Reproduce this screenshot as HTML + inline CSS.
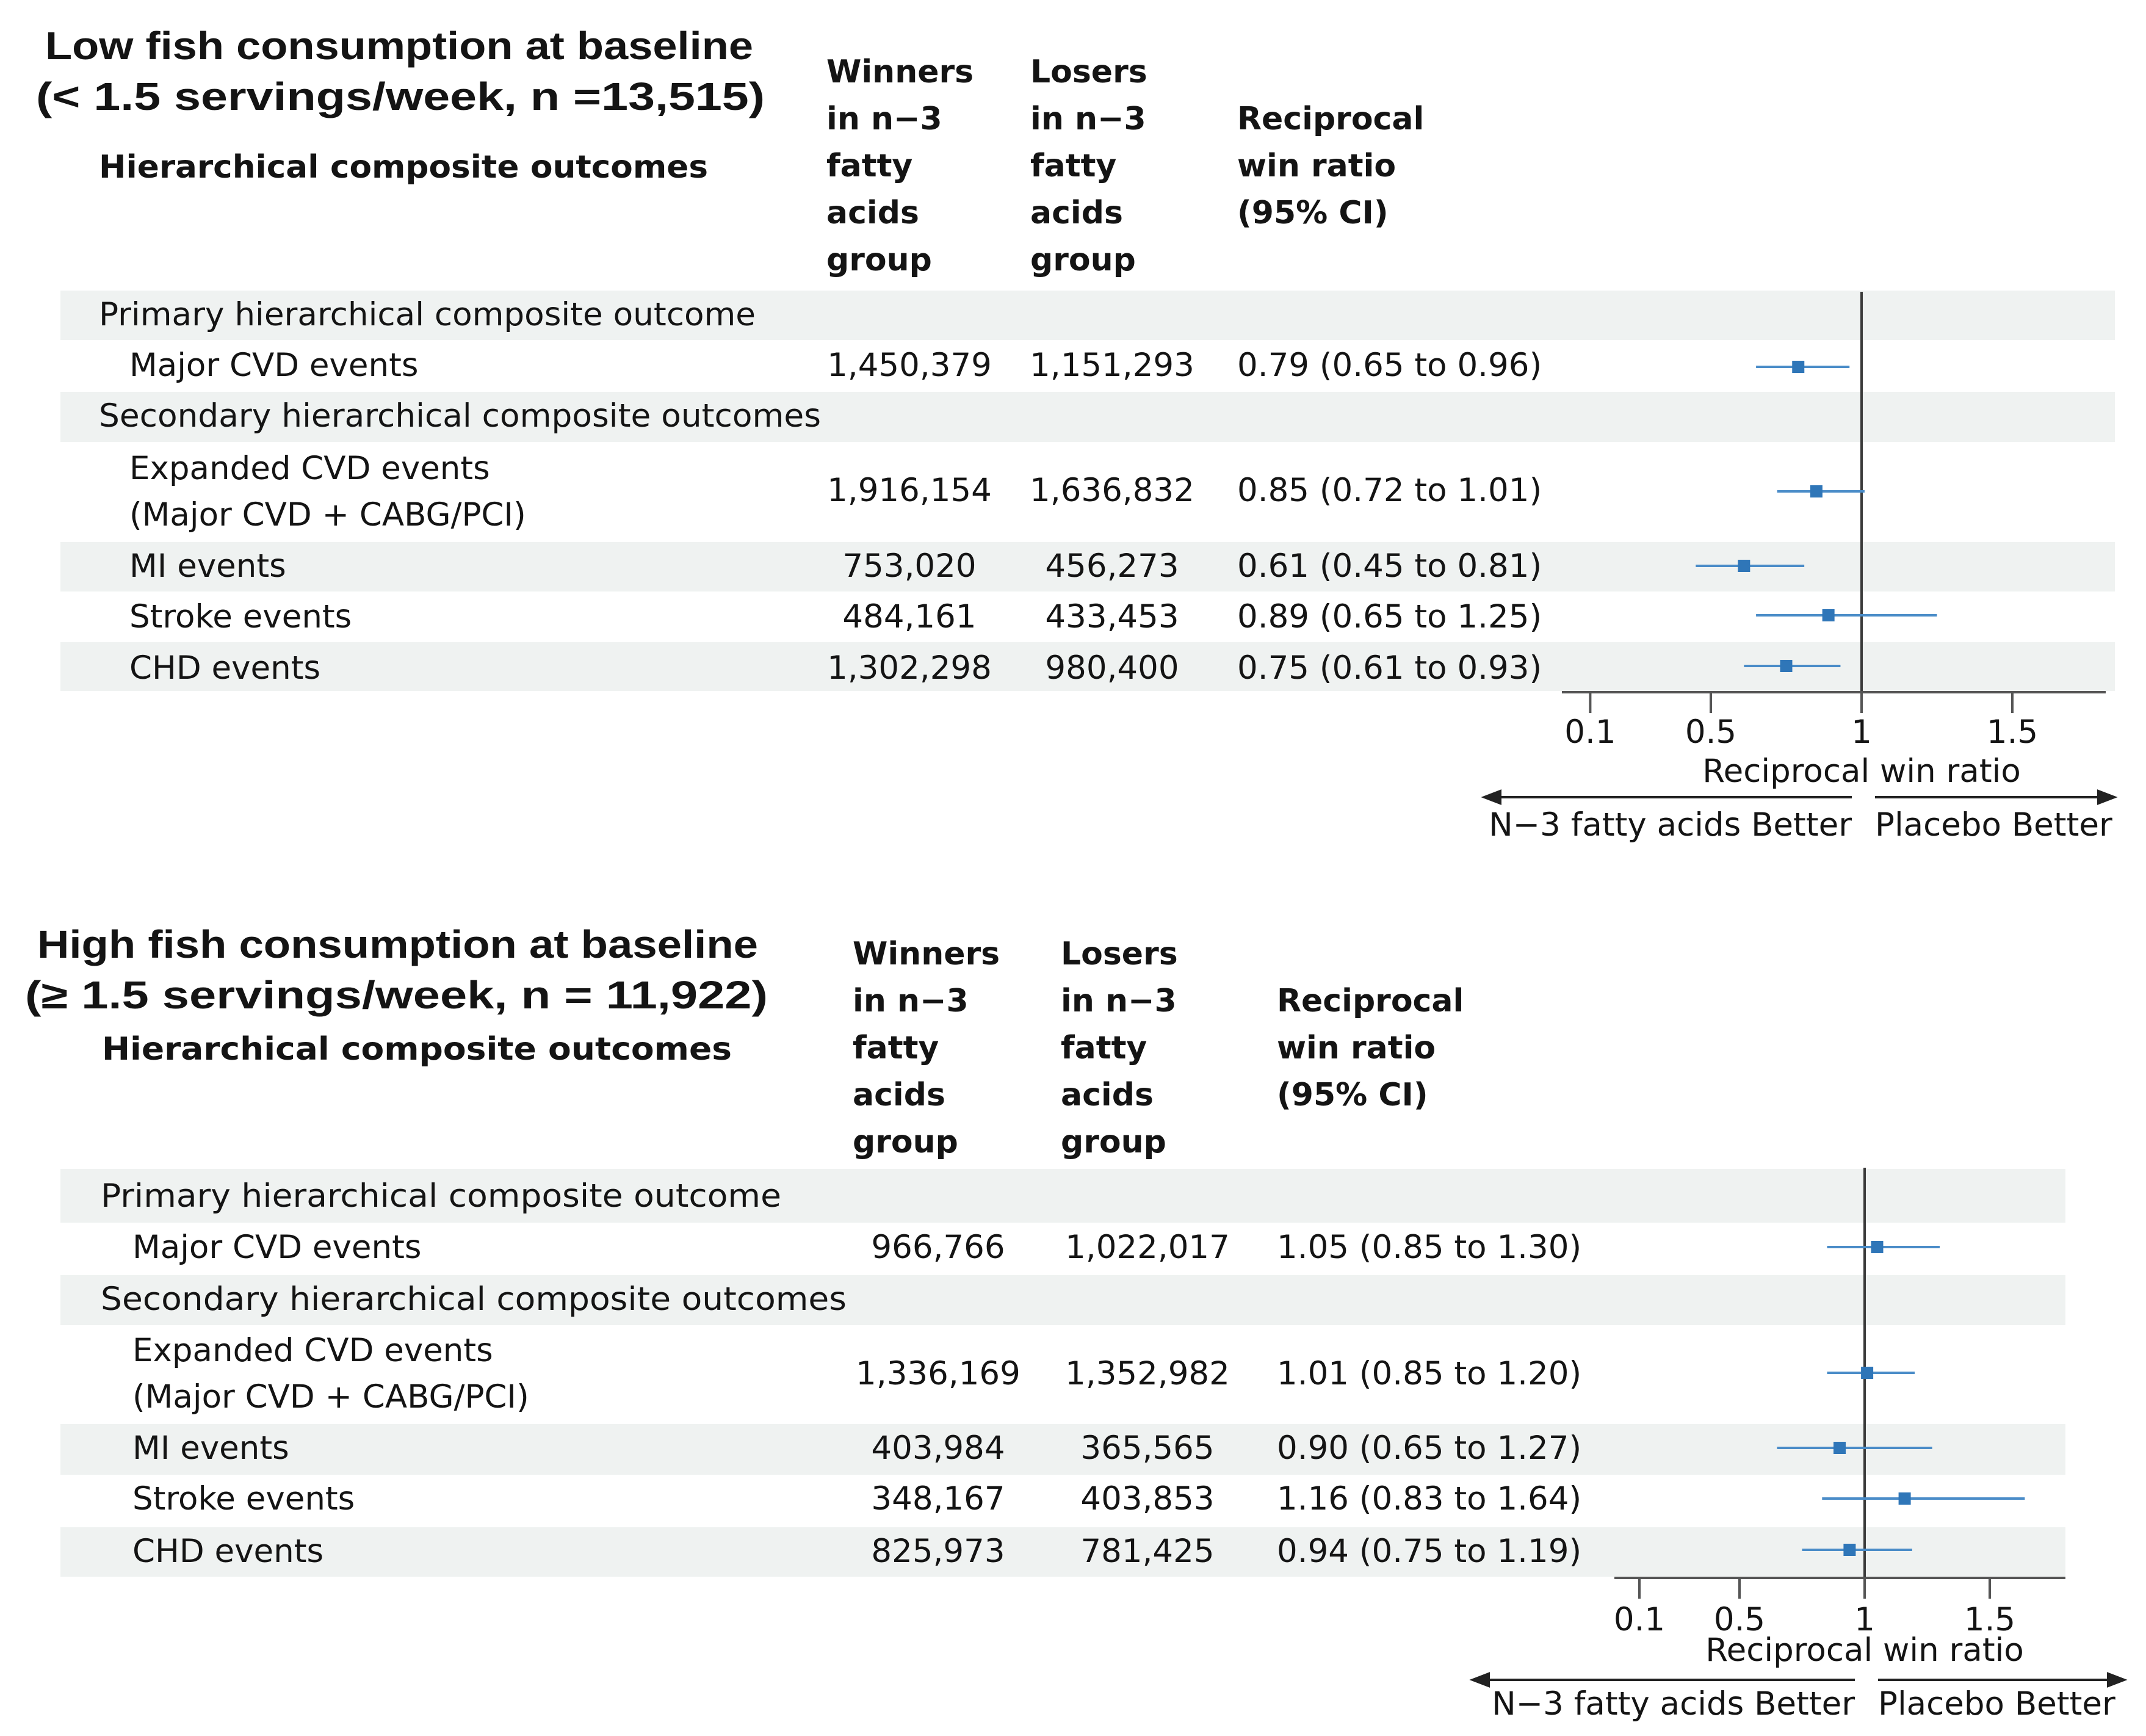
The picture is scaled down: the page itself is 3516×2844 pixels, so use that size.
<!DOCTYPE html>
<html><head><meta charset="utf-8"><style>
html,body{margin:0;padding:0;background:#fff}
svg{display:block}
text{font-family:"DejaVu Sans","Liberation Sans",sans-serif;fill:#141414}
.t{font-family:"Liberation Sans",sans-serif;font-weight:bold;font-size:64px}
.h{font-weight:bold;font-size:52px}
.b{font-size:53px}
.tk{font-size:53px}
</style></head><body>
<svg id="fig" width="3516" height="2844" viewBox="0 0 3516 2844" xmlns="http://www.w3.org/2000/svg">
<g id="bands">
<rect x="99" y="476" width="3366" height="81" fill="#eff2f1"/>
<rect x="99" y="642" width="3366" height="82" fill="#eff2f1"/>
<rect x="99" y="888" width="3366" height="81" fill="#eff2f1"/>
<rect x="99" y="1052" width="3366" height="80" fill="#eff2f1"/>
<rect x="99" y="1915" width="3285" height="88" fill="#eff2f1"/>
<rect x="99" y="2089" width="3285" height="82" fill="#eff2f1"/>
<rect x="99" y="2333" width="3285" height="83" fill="#eff2f1"/>
<rect x="99" y="2502" width="3285" height="81" fill="#eff2f1"/>
</g>
<g>
<text class="t" x="74" y="97" textLength="1160" lengthAdjust="spacingAndGlyphs">Low fish consumption at baseline</text>
<text class="t" x="59" y="180" textLength="1194" lengthAdjust="spacingAndGlyphs">(&lt; 1.5 servings/week, n =13,515)</text>
<text class="h" x="162" y="291" textLength="998" lengthAdjust="spacingAndGlyphs">Hierarchical composite outcomes</text>
<text class="h" x="1354" y="135">Winners<tspan x="1354" dy="77">in n−3</tspan><tspan x="1354" dy="77">fatty</tspan><tspan x="1354" dy="77">acids</tspan><tspan x="1354" dy="77">group</tspan></text>
<text class="h" x="1688" y="135">Losers<tspan x="1688" dy="77">in n−3</tspan><tspan x="1688" dy="77">fatty</tspan><tspan x="1688" dy="77">acids</tspan><tspan x="1688" dy="77">group</tspan></text>
<text class="h" x="2027" y="212">Reciprocal<tspan x="2027" dy="77">win ratio</tspan><tspan x="2027" dy="77">(95% CI)</tspan></text>
<text class="b" x="162" y="533" textLength="1076" lengthAdjust="spacingAndGlyphs">Primary hierarchical composite outcome</text>
<text class="b" x="212" y="616">Major CVD events</text>
<text class="b" x="162" y="699" textLength="1183" lengthAdjust="spacingAndGlyphs">Secondary hierarchical composite outcomes</text>
<text class="b" x="212" y="785">Expanded CVD events<tspan x="212" dy="76">(Major CVD + CABG/PCI)</tspan></text>
<text class="b" x="212" y="945">MI events</text>
<text class="b" x="212" y="1028">Stroke events</text>
<text class="b" x="212" y="1112">CHD events</text>
<g text-anchor="middle">
<text class="b" x="1490" y="616">1,450,379</text>
<text class="b" x="1822" y="616">1,151,293</text>
<text class="b" x="1490" y="821">1,916,154</text>
<text class="b" x="1822" y="821">1,636,832</text>
<text class="b" x="1490" y="945">753,020</text>
<text class="b" x="1822" y="945">456,273</text>
<text class="b" x="1490" y="1028">484,161</text>
<text class="b" x="1822" y="1028">433,453</text>
<text class="b" x="1490" y="1112">1,302,298</text>
<text class="b" x="1822" y="1112">980,400</text>
</g>
<text class="b" x="2027" y="616">0.79 (0.65 to 0.96)</text>
<text class="b" x="2027" y="821">0.85 (0.72 to 1.01)</text>
<text class="b" x="2027" y="945">0.61 (0.45 to 0.81)</text>
<text class="b" x="2027" y="1028">0.89 (0.65 to 1.25)</text>
<text class="b" x="2027" y="1112">0.75 (0.61 to 0.93)</text>
</g>
<g>
<text class="t" x="61" y="1569" textLength="1181" lengthAdjust="spacingAndGlyphs">High fish consumption at baseline</text>
<text class="t" x="41" y="1652" textLength="1217" lengthAdjust="spacingAndGlyphs">(≥ 1.5 servings/week, n = 11,922)</text>
<text class="h" x="167" y="1736" textLength="1032" lengthAdjust="spacingAndGlyphs">Hierarchical composite outcomes</text>
<text class="h" x="1397" y="1580">Winners<tspan x="1397" dy="77">in n−3</tspan><tspan x="1397" dy="77">fatty</tspan><tspan x="1397" dy="77">acids</tspan><tspan x="1397" dy="77">group</tspan></text>
<text class="h" x="1738" y="1580">Losers<tspan x="1738" dy="77">in n−3</tspan><tspan x="1738" dy="77">fatty</tspan><tspan x="1738" dy="77">acids</tspan><tspan x="1738" dy="77">group</tspan></text>
<text class="h" x="2092" y="1657">Reciprocal<tspan x="2092" dy="77">win ratio</tspan><tspan x="2092" dy="77">(95% CI)</tspan></text>
<text class="b" x="165" y="1977" textLength="1115" lengthAdjust="spacingAndGlyphs">Primary hierarchical composite outcome</text>
<text class="b" x="217" y="2061">Major CVD events</text>
<text class="b" x="165" y="2146" textLength="1222" lengthAdjust="spacingAndGlyphs">Secondary hierarchical composite outcomes</text>
<text class="b" x="217" y="2230">Expanded CVD events<tspan x="217" dy="76">(Major CVD + CABG/PCI)</tspan></text>
<text class="b" x="217" y="2390">MI events</text>
<text class="b" x="217" y="2473">Stroke events</text>
<text class="b" x="217" y="2559">CHD events</text>
<g text-anchor="middle">
<text class="b" x="1537" y="2061">966,766</text>
<text class="b" x="1880" y="2061">1,022,017</text>
<text class="b" x="1537" y="2268">1,336,169</text>
<text class="b" x="1880" y="2268">1,352,982</text>
<text class="b" x="1537" y="2390">403,984</text>
<text class="b" x="1880" y="2390">365,565</text>
<text class="b" x="1537" y="2473">348,167</text>
<text class="b" x="1880" y="2473">403,853</text>
<text class="b" x="1537" y="2559">825,973</text>
<text class="b" x="1880" y="2559">781,425</text>
</g>
<text class="b" x="2092" y="2061">1.05 (0.85 to 1.30)</text>
<text class="b" x="2092" y="2268">1.01 (0.85 to 1.20)</text>
<text class="b" x="2092" y="2390">0.90 (0.65 to 1.27)</text>
<text class="b" x="2092" y="2473">1.16 (0.83 to 1.64)</text>
<text class="b" x="2092" y="2559">0.94 (0.75 to 1.19)</text>
</g>
<g id="plots"></g>
</svg>
<script>
// Data arrays
const tickValues = [0.1, 0.5, 1, 1.5];
const tickLabels = ["0.1", "0.5", "1", "1.5"];
const lowEst = [0.79, 0.85, 0.61, 0.89, 0.75];
const lowLo = [0.65, 0.72, 0.45, 0.65, 0.61];
const lowHi = [0.96, 1.01, 0.81, 1.25, 0.93];
const highEst = [1.05, 1.01, 0.90, 1.16, 0.94];
const highLo = [0.85, 0.85, 0.65, 0.83, 0.75];
const highHi = [1.30, 1.20, 1.27, 1.64, 1.19];

const NS = "http://www.w3.org/2000/svg";
const root = document.getElementById("plots");
function mk(tag, attrs, parent) {
  const e = document.createElementNS(NS, tag);
  for (const k in attrs) e.setAttribute(k, attrs[k]);
  (parent || root).appendChild(e);
  return e;
}
const panels = [
  {id:"low", est:lowEst, lo:lowLo, hi:lowHi, x1:3050, unit:494, rows:[601,805,927,1008,1091],
   refTop:478, axisY:1134, axL:2559, axR:3450, tickY:1217, titleY:1281, arrY:1306, arrL:2432, arrR:3464, lblY:1369},
  {id:"high", est:highEst, lo:highLo, hi:highHi, x1:3055, unit:410, rows:[2043,2249,2372,2455,2539],
   refTop:1913, axisY:2585, axL:2645, axR:3384, tickY:2671, titleY:2721, arrY:2752, arrL:2413, arrR:3480, lblY:2809}
];
panels.forEach(p => {
  const xs = v => p.x1 + (v - 1) * p.unit;
  const g = mk("g", {});
  
  
  const ref = mk("line", {x1:xs(1), x2:xs(1), y1:p.refTop, y2:p.axisY, stroke:"#3a3a3a", "stroke-width":4}, g);
  
  
  const ax = mk("line", {x1:p.axL, x2:p.axR, y1:p.axisY, y2:p.axisY, stroke:"#555", "stroke-width":4}, g);
  
  
  tickValues.forEach((v, i) => {
    const t = mk("line", {x1:xs(v), x2:xs(v), y1:p.axisY, y2:p.axisY + 34, stroke:"#555", "stroke-width":4}, g);
    
    
    const l = mk("text", {x:xs(v), y:p.tickY, "text-anchor":"middle", class:"tk"}, g);
    l.textContent = tickLabels[i];
    
    
  });
  const at = mk("text", {x:xs(1), y:p.titleY, "text-anchor":"middle", class:"tk"}, g);
  at.textContent = "Reciprocal win ratio";
  
  
  const la = mk("path", {d:`M${p.arrL+22},${p.arrY}H${xs(1)-16}M${p.arrL},${p.arrY}l26,-10v20z`, stroke:"#222", "stroke-width":4, fill:"#222"}, g);
  
  
  const ra = mk("path", {d:`M${xs(1)+22},${p.arrY}H${p.arrR-22}M${p.arrR},${p.arrY}l-26,-10v20z`, stroke:"#222", "stroke-width":4, fill:"#222"}, g);
  
  
  const ll = mk("text", {x:xs(1)-16, y:p.lblY, "text-anchor":"end", class:"tk"}, g);
  ll.textContent = "N−3 fatty acids Better";
  
  
  const rl = mk("text", {x:xs(1)+22, y:p.lblY, class:"tk"}, g);
  rl.textContent = "Placebo Better";
  
  
  p.est.forEach((e, i) => {
    const y = p.rows[i];
    const ci = mk("line", {x1:xs(p.lo[i]), x2:xs(p.hi[i]), y1:y, y2:y, stroke:"#4a8cc8", "stroke-width":4}, g);
    
    
    const m = mk("rect", {x:xs(e)-10, y:y-10, width:20, height:20, fill:"#2f76b8"}, g);
    
    
  });
});
</script>
</body></html>
